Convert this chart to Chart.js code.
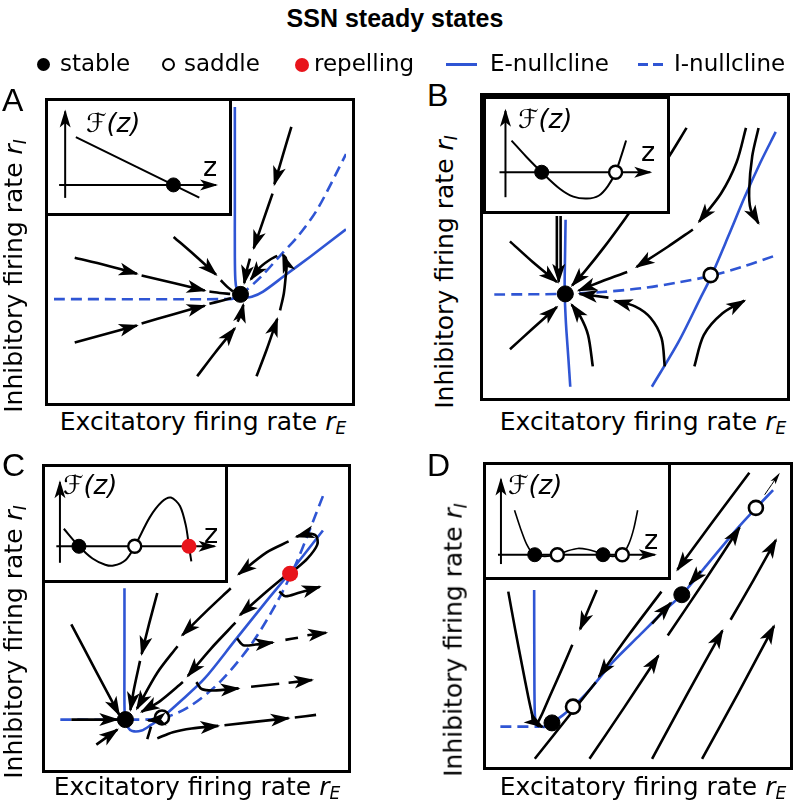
<!DOCTYPE html>
<html>
<head>
<meta charset="utf-8">
<script src="https://cdn.jsdelivr.net/npm/chart.js@4.4.1/dist/chart.umd.min.js"></script>
<style>
body{margin:0;background:#fff;}
#fig{position:relative;width:796px;height:809px;overflow:hidden;font-family:"DejaVu Sans",sans-serif;color:#000;}
canvas{position:absolute;display:block;}
.t{position:absolute;white-space:nowrap;line-height:1;}
.mk{position:absolute;box-sizing:border-box;}
.lab{font-size:25px;transform:translate(-50%,-50%);}
.ylab{font-size:25px;transform:translate(-50%,-50%) rotate(-90deg);}
.lab sub,.ylab sub{font-size:0.68em;font-style:italic;vertical-align:-0.28em;}
.let{font-family:"Liberation Sans",Arial,sans-serif;font-size:32px;}
.fz{font-size:26px;font-style:italic;}
.zz{font-size:27px;}
.leg{font-size:23px;top:52px;}
</style>
</head>
<body>
<div id="fig">
  <canvas id="pA" width="310" height="308" style="left:45px;top:98px"></canvas>
  <canvas id="pB" width="310" height="308" style="left:480px;top:93px"></canvas>
  <canvas id="pC" width="309" height="309" style="left:42px;top:464px"></canvas>
  <canvas id="pD" width="310" height="308" style="left:483px;top:462px"></canvas>
  <canvas id="iA" width="187" height="118" style="left:45px;top:98px"></canvas>
  <canvas id="iB" width="187" height="118" style="left:483px;top:96px"></canvas>
  <canvas id="iC" width="186" height="119" style="left:42px;top:464px"></canvas>
  <canvas id="iD" width="188" height="118" style="left:483px;top:462px"></canvas>

  <div class="t" style="left:0;width:790px;text-align:center;top:6px;font-family:'Liberation Sans',Arial,sans-serif;font-weight:bold;font-size:25px;">SSN steady states</div>

  <span class="mk" style="left:36.5px;top:57.5px;width:13px;height:13px;border-radius:50%;background:#000"></span>
  <div class="t leg" style="left:60px">stable</div>
  <span class="mk" style="left:161.5px;top:57.5px;width:13px;height:13px;border-radius:50%;border:2.5px solid #000;background:#fff"></span>
  <div class="t leg" style="left:184px">saddle</div>
  <span class="mk" style="left:294.5px;top:57.5px;width:14px;height:14px;border-radius:50%;background:#e8141b"></span>
  <div class="t leg" style="left:314px">repelling</div>
  <span class="mk" style="left:446px;top:62.5px;width:31px;height:3px;background:#2f55d4"></span>
  <div class="t leg" style="left:490px">E-nullcline</div>
  <span class="mk" style="left:638px;top:62.5px;width:10px;height:3px;background:#2f55d4"></span>
  <span class="mk" style="left:653px;top:62.5px;width:10px;height:3px;background:#2f55d4"></span>
  <div class="t leg" style="left:674px">I-nullcline</div>

  <div class="t let" style="left:2px;top:84px">A</div>
  <div class="t let" style="left:427px;top:79px">B</div>
  <div class="t let" style="left:2px;top:449px">C</div>
  <div class="t let" style="left:427px;top:449px">D</div>

  <div class="t ylab" style="left:15px;top:276px">Inhibitory firing rate <i>r</i><sub>I</sub></div>
  <div class="t ylab" style="left:446px;top:272px">Inhibitory firing rate <i>r</i><sub>I</sub></div>
  <div class="t ylab" style="left:15px;top:642px">Inhibitory firing rate <i>r</i><sub>I</sub></div>
  <div class="t ylab" style="left:455px;top:640px">Inhibitory firing rate <i>r</i><sub>I</sub></div>
  <div class="t lab" style="left:203px;top:423px">Excitatory firing rate <i>r</i><sub>E</sub></div>
  <div class="t lab" style="left:643px;top:423px">Excitatory firing rate <i>r</i><sub>E</sub></div>
  <div class="t lab" style="left:197px;top:788px">Excitatory firing rate <i>r</i><sub>E</sub></div>
  <div class="t lab" style="left:643px;top:788px">Excitatory firing rate <i>r</i><sub>E</sub></div>

  <div class="t fz" style="left:86px;top:110px">ℱ(z)</div>
  <div class="t zz" style="left:203px;top:153px">z</div>
  <div class="t fz" style="left:518px;top:106px">ℱ(z)</div>
  <div class="t zz" style="left:641px;top:138px">z</div>
  <div class="t fz" style="left:63px;top:472px">ℱ(z)</div>
  <div class="t zz" style="left:204px;top:520px">z</div>
  <div class="t fz" style="left:508px;top:472px">ℱ(z)</div>
  <div class="t zz" style="left:644px;top:526px">z</div>
</div>
<script>
const BLUE = '#2f55d4';

// ---- panel A (phase plane, box units) ----
const aENull = [[192,308],[192,200],[192,150],[192.5,125],[194,114],[197,108.5],[202,106],[210,106.5],[222,112],[245,129],[272,149],[310,178]];
const aINull = [[0,104],[186,104],[193,105.5],[199,109],[220,128],[240,150],[260,172],[280,200],[310,258]];
const aStable = [[198,109]];
const aTraj = [
  {h:1,p:[[252,287],[243,257],[234,226]]},
  {h:1,p:[[232,216],[222,187],[212,158]]},
  {h:1,p:[[208,147],[204,132],[202,121]]},
  {h:1,p:[[127,170],[150,150],[172,130]]},
  {h:0,p:[[177,124],[184,117],[190,112]]},
  {h:1,p:[[22,148],[55,140],[88,131]]},
  {h:1,p:[[93,129],[127,121],[160,113]]},
  {h:0,p:[[165,112],[176,110.5],[187,109.5]]},
  {h:1,p:[[22,58],[55,67],[88,76]]},
  {h:1,p:[[93,78],[127,88],[160,97]]},
  {h:0,p:[[165,99],[177,102],[188,105]]},
  {h:1,p:[[152,22],[171,47],[192,73]]},
  {h:1,p:[[195,80],[199,89],[201,98]]},
  {h:1,p:[[215,22],[226,51],[237,83]]},
  {h:1,p:[[240,92],[244,110],[246,128],[247,140],[246,148],[243,151]]},
  {h:1,p:[[237,150],[228,145],[218,137],[209,125]]}
];
// inset A
const aFz = [[25,82],[160,12]];
const aFzStable = [[131.7,26.7]];
const aVAx = [[13.3,11.7],[13.3,111.7]];
const aHAx = [[6.7,26.7],[178.3,26.7]];

// ---- panel B ----
const bENullL = [[81,183],[80.5,150],[80,107],[81,80],[82,63],[84,35],[86,5]];
const bENullR = [[173,5],[201.7,53.3],[225,100],[235,120],[255,166.7],[271.7,206.7],[288.3,243.3],[305,276.7]];
const bINull = [[5,103.3],[80,104],[120,106],[162,110],[200,116],[235,123],[270,133],[305,145]];
const bStable = [[80.7,104]];
const bSaddle = [[235.7,124]];
const bTraj = [
  {h:0,p:[[71.7,187],[71.7,127]]},
  {h:0,p:[[75.7,187],[75.7,127]]},
  {h:1,p:[[73.7,128],[73.7,117]]},
  {h:1,p:[[21.7,160],[46,138],[71.7,116.7]]},
  {h:1,p:[[21.7,45],[46,67],[71.7,90]]},
  {h:1,p:[[110,26.7],[105,60],[96.7,80],[87.5,92.5]]},
  {h:1,p:[[210,281],[188.3,246],[145,185],[121.7,153.3],[101.7,128.3],[88,113]]},
  {h:1,p:[[273.3,281],[263.3,244.3],[246.7,211],[223.3,181]]},
  {h:1,p:[[216.7,172.7],[190,154.3],[156.7,132.7]]},
  {h:1,p:[[146.7,127.3],[121.7,118.3],[95,107.5]]},
  {h:1,p:[[186.7,26.7],[183.3,56.7],[171.7,78.3],[155,90.7],[133.3,96.7]]},
  {h:1,p:[[126.7,100],[96,104]]},
  {h:1,p:[[286.7,281],[280,251],[276.7,214.3],[278.3,194.3],[286.7,179.3]]},
  {h:1,p:[[218.3,26.7],[228.3,60],[248.3,83.3],[271.7,96.7]]}
];
const bFz = [[21.7,76],[38,57],[55,38.7],[75,19.3],[90,10],[105,7.7],[118,11],[128,22],[136.7,38.7],[143,58],[148.3,76]];
const bFzStable = [[55,38.7]];
const bFzSaddle = [[136.7,38.7]];
const bVAx = [[15,9.3],[15,111]];
const bHAx = [[8.4,38.7],[175,38.7]];

// ---- panel C ----
const cENull = [[77.7,186.7],[77.7,120],[77.7,62],[78.5,47],[81,39],[86,34.5],[96,35],[106,41],[117.7,49],[136,65],[162.7,90],[196,131.7],[229.3,173.3],[252.7,201.7],[289.3,248.3]];
const cINull = [[9.3,46.7],[76,46.7],[117.7,48.3],[146,60],[179.3,86.7],[212.7,126.7],[239.3,170],[259.3,210],[274.3,246.7],[289.3,285]];
const cStable = [[78.7,46.7]];
const cSaddle = [[117.7,49]];
const cRepel = [[254.3,202.3]];
const cTraj = [
  {h:1,p:[[21,148.3],[47,99],[72,52]]},
  {h:1,p:[[112.7,181.7],[104,149],[96,116.7]]},
  {h:1,p:[[94.3,109.3],[88,80],[84,57]]},
  {h:1,p:[[21,46.7],[70,46.7]]},
  {h:1,p:[[47.7,20],[70,36]]},
  {h:1,p:[[257.7,205],[272.7,218.3],[283.3,233.3],[282,242.7],[272.7,245],[261,241.7]]},
  {h:1,p:[[252.7,236.7],[229.3,225],[199.3,201.7]]},
  {h:1,p:[[191,186.7],[162.7,160],[139.3,136.7]]},
  {h:1,p:[[134.3,125],[112.7,96.7],[91,58.3]]},
  {h:1,p:[[249.3,200],[229.3,183.3],[201,158.3]]},
  {h:1,p:[[196,150],[169.3,121.7],[145.3,93.3]]},
  {h:1,p:[[140,86.7],[116,66.7],[96,55]]},
  {h:1,p:[[242.7,183.3],[249.3,178.3],[262.7,181.7],[286,188.3]]},
  {h:1,p:[[197.7,133.3],[204.3,126],[217.7,126.7],[236,129]]},
  {h:0,p:[[249.3,131.7],[262.7,134]]},
  {h:1,p:[[272.7,136.7],[292.7,139.3]]},
  {h:1,p:[[154.3,86.7],[160,79.3],[172.7,77.7],[199.3,80]]},
  {h:0,p:[[212.7,81.7],[242.7,85]]},
  {h:1,p:[[252.7,86],[277.7,89]]},
  {h:1,p:[[112.7,26.7],[129.3,33.3],[149.3,37.3],[177.7,40]]},
  {h:1,p:[[184.3,40.7],[252.7,48.3]]},
  {h:0,p:[[259.3,49],[282,51.7]]},
  {h:1,p:[[114.3,46.7],[103,45.7]]},
  {h:0,p:[[106,39.3],[102,26]]}
];
const cFz = [[14.3,53.3],[31,32.7],[46,18.3],[60,11],[69.3,10],[82.7,16.7],[92.7,32.7],[109.3,66.7],[122.7,85],[132.7,90],[142.7,80],[149.3,56.7],[152.7,32.7],[155.3,15]];
const cFzStable = [[31,32.7]];
const cFzSaddle = [[92.7,32.7]];
const cFzRepel = [[152.7,32.7]];
const cVAx = [[10,13.3],[10,108]];
const cHAx = [[6,32.7],[181,32.7]];

// ---- panel D ----
const dENull = [[44.3,181.7],[44.5,100],[45,50],[46.5,40.5],[51,36.5],[56,36],[63.3,40],[75,48.3],[85.7,57.3],[101.7,73.3],[128.3,105],[155,131.7],[181.7,158.3],[201.7,176.7],[228.3,208.3],[261.7,248.3],[280.7,269],[299,288.3]];
const dINull = [[8.3,36],[50,36]];
const dStable = [[63.3,40],[201.7,176.7]];
const dSaddle = [[85.7,57.3],[280.7,269.3]];
const dTraj = [
  {h:1,p:[[16.7,180],[24,140],[31.7,100],[38,68],[42,50],[45,41],[48,37],[53,36]]},
  {h:1,p:[[111,181.7],[93.3,140]]},
  {h:0,p:[[85,123.3],[75,100],[61.7,70],[53,50],[48.5,41]]},
  {h:1,p:[[180,180],[146,135],[113.3,89.3]]},
  {h:0,p:[[110,83.3],[45,1.7]]},
  {h:1,p:[[273.7,306.7],[235,255],[197,203.3]]},
  {h:1,p:[[103.3,1.7],[140,56],[176.7,111.7]]},
  {h:1,p:[[186.7,133.3],[225,190],[263.3,248.3]]},
  {h:1,p:[[170,1.7],[207,70],[245,138.3]]},
  {h:1,p:[[253.7,150],[278,192],[302,235]]},
  {h:1,p:[[223.3,1.7],[262,72],[300,143.3]]},
  {h:1,p:[[170,146],[190,168]]},
  {h:1,p:[[222,202],[210,188]]}
];
const dThin = [[290,283.3],[305,305]];
const dFz = [[25,71.7],[31.7,50],[38.3,31.7],[44,22],[47.3,19.3],[58.3,17.3],[72.3,19.3],[84,24],[95,26.7],[106,25.5],[114,23],[122.7,19.3],[133.3,17.3],[144,19.3],[151.7,33.3],[156.7,50],[161,71.7]];
const dFzStable = [[47.3,19.3],[122.7,19.3]];
const dFzSaddle = [[72.3,19.3],[144,19.3]];
const dVAx = [[10,8.3],[10,108]];
const dHAx = [[6.7,19.3],[180,19.3]];

function pts(a){ return a.map(p => ({x:p[0], y:p[1]})); }

function line(a, color, w, dash, order, head){
  return {data:pts(a), showLine:true, borderColor:color, borderWidth:w, borderDash:dash || [],
          pointRadius:0, tension:0.3, order:order, head:head, fill:false};
}
function traj(list, w){
  return list.map(s => line(s.p, '#000', w || 2.6, null, 1, !!s.h));
}
function dots(a, fill, r, bw){
  return {data:pts(a), showLine:false, pointRadius:r, pointBackgroundColor:fill,
          pointBorderColor:'#000', pointBorderWidth:bw, order:0};
}

function drawHead(ctx, x, y, ang, L, W, c){
  ctx.save();
  ctx.translate(x, y);
  ctx.rotate(ang);
  ctx.beginPath();
  ctx.moveTo(2, 0);
  ctx.lineTo(-L, W);
  ctx.lineTo(-L * 0.72, 0);
  ctx.lineTo(-L, -W);
  ctx.closePath();
  ctx.fillStyle = c;
  ctx.fill();
  ctx.restore();
}

const heads = {
  id:'heads',
  afterDatasetsDraw(chart){
    const ctx = chart.ctx;
    chart.data.datasets.forEach((ds, i) => {
      if (!ds.head) return;
      const el = chart.getDatasetMeta(i).data;
      const tip = el[el.length - 1];
      let k = el.length - 2, back = el[k];
      while (k > 0 && Math.hypot(tip.x - back.x, tip.y - back.y) < 6) { k--; back = el[k]; }
      const ang = Math.atan2(tip.y - back.y, tip.x - back.x);
      drawHead(ctx, tip.x, tip.y, ang, ds.headLen || 18, ds.headW || 6.5, ds.borderColor);
    });
  }
};

const frame = {
  id:'frame',
  beforeDraw(chart){
    const c = chart.ctx;
    c.save(); c.fillStyle = '#fff'; c.fillRect(0, 0, chart.width, chart.height); c.restore();
  },
  afterDraw(chart){
    const c = chart.ctx;
    c.save(); c.lineWidth = 3; c.strokeStyle = '#000';
    c.strokeRect(1.5, 1.5, chart.width - 3, chart.height - 3); c.restore();
  }
};

function makeChart(id, datasets){
  const cv = document.getElementById(id);
  return new Chart(cv, {
    type:'scatter',
    data:{datasets:datasets},
    options:{
      responsive:false, animation:false, devicePixelRatio:1, events:[],
      layout:{padding:0},
      plugins:{legend:{display:false}, tooltip:{enabled:false}},
      scales:{
        x:{type:'linear', min:0, max:cv.width, display:false},
        y:{type:'linear', min:0, max:cv.height, display:false}
      }
    },
    plugins:[frame, heads]
  });
}

function axes(v, h){
  const a = line(v, '#000', 2, null, 1, true); a.headLen = 16; a.headW = 5.5;
  const b = line(h, '#000', 2, null, 1, true); b.headLen = 16; b.headW = 5.5;
  return [a, b];
}

// main panels
makeChart('pA', [
  dots(aStable, '#000', 8, 1),
  ...traj(aTraj),
  line(aENull, BLUE, 2.6, null, 2, false),
  line(aINull, BLUE, 2.6, [11,6], 2, false)
]);
makeChart('pB', [
  dots(bStable, '#000', 8, 1),
  dots(bSaddle, '#fff', 7, 2.6),
  ...traj(bTraj),
  line(bENullL, BLUE, 2.6, null, 2, false),
  line(bENullR, BLUE, 2.6, null, 2, false),
  line(bINull, BLUE, 2.6, [11,6], 2, false)
]);
makeChart('pC', [
  dots(cStable, '#000', 8, 1),
  dots(cSaddle, '#fff', 7, 2.6),
  dots(cRepel, '#e8141b', 8, 0),
  ...traj(cTraj),
  line(cENull, BLUE, 2.6, null, 2, false),
  line(cINull, BLUE, 2.6, [11,6], 2, false)
]);
const dThinSet = line(dThin, '#000', 1, null, 1, true); dThinSet.headLen = 10; dThinSet.headW = 3;
makeChart('pD', [
  dots(dStable, '#000', 8, 1),
  dots(dSaddle, '#fff', 7, 2.6),
  ...traj(dTraj),
  dThinSet,
  line(dENull, BLUE, 2.6, null, 2, false),
  line(dINull, BLUE, 2.6, [11,6], 2, false)
]);

// insets
makeChart('iA', [
  dots(aFzStable, '#000', 7, 1),
  line(aFz, '#000', 2, null, 1, false),
  ...axes(aVAx, aHAx)
]);
makeChart('iB', [
  dots(bFzStable, '#000', 7, 1),
  dots(bFzSaddle, '#fff', 6.5, 2.4),
  line(bFz, '#000', 2, null, 1, false),
  ...axes(bVAx, bHAx)
]);
makeChart('iC', [
  dots(cFzStable, '#000', 7, 1),
  dots(cFzSaddle, '#fff', 6.5, 2.4),
  dots(cFzRepel, '#e8141b', 7.5, 0),
  line(cFz, '#000', 2, null, 1, false),
  ...axes(cVAx, cHAx)
]);
makeChart('iD', [
  dots(dFzStable, '#000', 7, 1),
  dots(dFzSaddle, '#fff', 6.5, 2.4),
  line(dFz, '#000', 1.6, null, 1, false),
  ...axes(dVAx, dHAx)
]);
</script>
</body>
</html>
